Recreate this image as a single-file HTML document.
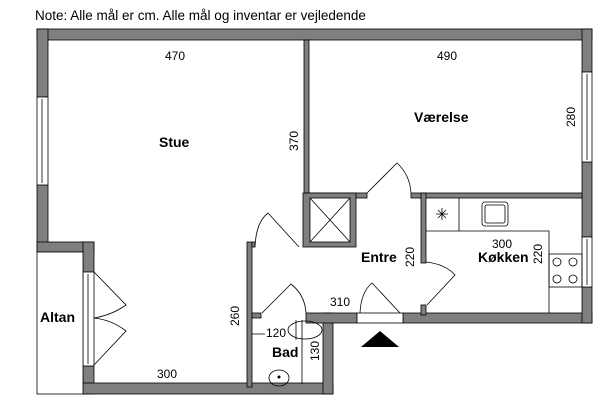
<!DOCTYPE html>
<html><head><meta charset="utf-8"><style>
html,body{margin:0;padding:0;background:#fff;width:600px;height:403px;overflow:hidden}
svg{display:block}
text{font-family:"Liberation Sans",Arial,sans-serif;fill:#000}
</style></head><body>
<svg width="600" height="403" viewBox="0 0 600 403">
<text x="35" y="20" font-size="13.5">Note: Alle mål er cm. Alle mål og inventar er vejledende</text>
<g fill="#7f7f7f" stroke="#000" stroke-width="0.8">
<!-- top wall -->
<rect x="37" y="29" width="555" height="11"/>
<!-- left wall upper -->
<rect x="37" y="29" width="11" height="68"/>
<rect x="37" y="185" width="11" height="67"/>
<!-- left step -->
<rect x="37" y="242" width="57" height="10"/>
<!-- stue lower wall -->
<rect x="83" y="242" width="11" height="30"/>
<rect x="83" y="366" width="11" height="28"/>
<!-- bottom wall -->
<rect x="83" y="383" width="250" height="11"/>
<!-- bath right wall -->
<rect x="323" y="313" width="10" height="81"/>
<rect x="306" y="313" width="51" height="10"/>
<rect x="403" y="313" width="189" height="10"/>
<!-- right wall -->
<rect x="582" y="29" width="10" height="43"/>
<rect x="582" y="162" width="10" height="75"/>
<rect x="582" y="287" width="10" height="36"/>
<!-- divider stue/værelse -->
<rect x="304" y="40" width="5" height="157"/>
<!-- værelse bottom wall -->
<rect x="304" y="193" width="63" height="5"/>
<rect x="411" y="193" width="171" height="5"/>
<!-- shaft -->
<rect x="303" y="193" width="53" height="54"/>
<!-- entre left wall -->
<rect x="247" y="242" width="5" height="145"/>
<rect x="252" y="242" width="3" height="5"/>
<!-- bath top wall left post -->
<rect x="252" y="313" width="9" height="5"/>
<!-- kitchen left wall -->
<rect x="421" y="193" width="5" height="70"/>
<rect x="421" y="305" width="5" height="10"/>
</g>
<rect x="310" y="198" width="40" height="44" fill="#fff" stroke="#000" stroke-width="0.8"/>
<path d="M310 198L350 242M350 198L310 242" stroke="#000" stroke-width="0.8"/>
<!-- windows -->
<g fill="#fff" stroke="#000" stroke-width="0.8">
<rect x="37" y="97" width="11" height="88"/><line x1="42" y1="99" x2="42" y2="183"/>
<rect x="582" y="72" width="10" height="90"/><line x1="587" y1="74" x2="587" y2="160"/>
<rect x="582" y="237" width="10" height="50"/><line x1="587" y1="239" x2="587" y2="285"/>
<rect x="83" y="272" width="11" height="94"/><line x1="88" y1="274" x2="88" y2="364"/>
<rect x="357" y="313" width="46" height="10"/>
</g>
<!-- altan -->
<rect x="37" y="252" width="46" height="142" fill="#fff" stroke="#000" stroke-width="0.8"/>
<!-- doors -->
<g fill="none" stroke="#000" stroke-width="0.8">
<path d="M94 272L126 305Q112 315 94 318Q112 320 126 331L94 365"/>
<path d="M255 247Q256 222 268 213L299 247"/>
<path d="M367 193L397 163Q410 175 411 193"/>
<path d="M262 313L291 284Q305 295 306 313"/>
<path d="M360 313Q361 292 372 283L400 313"/>
<path d="M426 262Q445 264 455 275L427 305"/>
<!-- kitchen -->
<path d="M426 231H549V313M459 198V231"/>
<rect x="549" y="254" width="33" height="33"/>
<circle cx="557" cy="262" r="4"/><circle cx="573" cy="262" r="4"/>
<circle cx="557" cy="279" r="4"/><circle cx="573" cy="279" r="4"/>
<rect x="482" y="202" width="26" height="24" rx="3"/>
<rect x="485" y="205" width="20" height="18" rx="2"/>
<path d="M436 214H448M442 208V220M438 210L446 218M446 210L438 218"/>
<!-- bath -->
<path d="M302 320V384M252 334H265"/>
<ellipse cx="305" cy="330" rx="17" ry="9"/>
<path d="M296 320V340"/>
<ellipse cx="279" cy="378" rx="10" ry="8"/>
</g>
<circle cx="279" cy="377" r="1.5"/>
<polygon points="361,347 380,331 399,347" fill="#000"/>
<g font-size="12">
<text x="165" y="60">470</text>
<text x="437" y="60">490</text>
<text x="492" y="248">300</text>
<text x="330" y="306">310</text>
<text x="157" y="378">300</text>
<text x="266" y="337">120</text>
<text transform="translate(298,151) rotate(-90)">370</text>
<text transform="translate(575,127) rotate(-90)">280</text>
<text transform="translate(414,267) rotate(-90)">220</text>
<text transform="translate(542,264) rotate(-90)">220</text>
<text transform="translate(239,326) rotate(-90)">260</text>
<text transform="translate(319,361) rotate(-90)">130</text>
</g>
<g font-size="14" font-weight="bold">
<text x="159" y="147">Stue</text>
<text x="414" y="122">Værelse</text>
<text x="361" y="262">Entre</text>
<text x="478" y="262">Køkken</text>
<text x="272" y="357">Bad</text>
<text x="40" y="322">Altan</text>
</g>
</svg>
</body></html>
